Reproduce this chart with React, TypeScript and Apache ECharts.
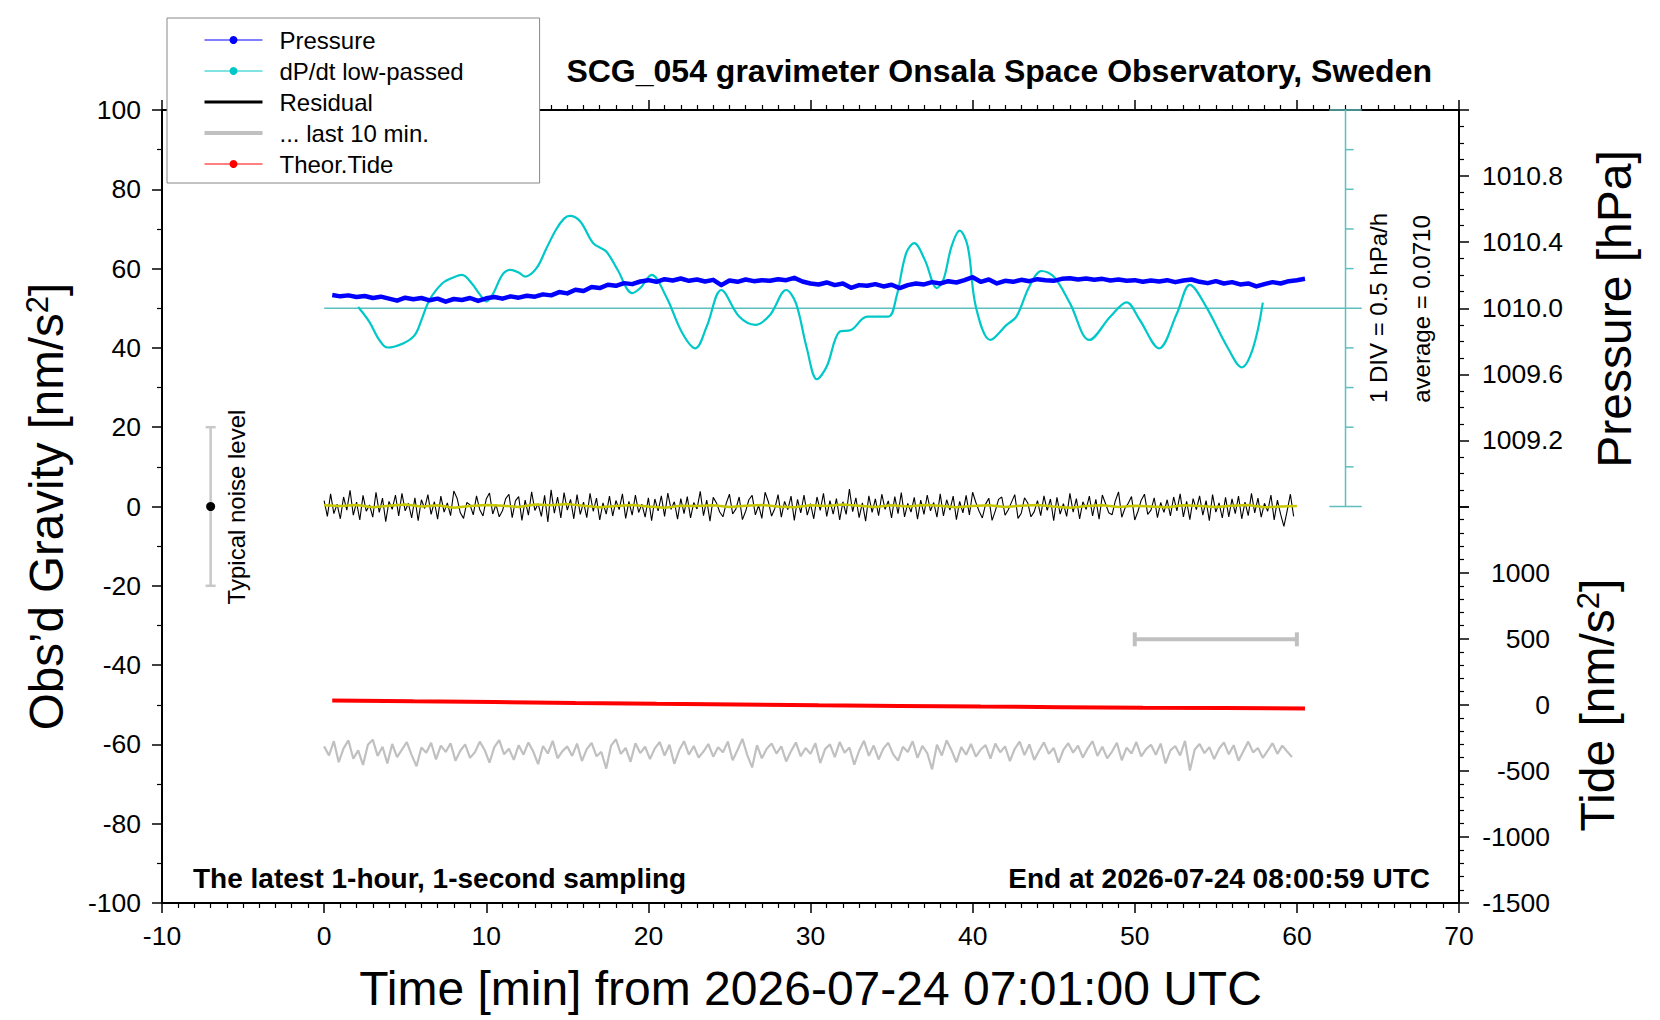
import React, { useEffect, useRef } from "react";
import * as echarts from "echarts";

const FONT = "'Liberation Sans', Arial, Helvetica, sans-serif";

const timeMin = -10;
const timeMax = 70;

// air pressure [hPa], one value every 30 s from 0.5 min
const pressureT0 = 0.5;
const pressureDt = 0.5;
const pressureHpa = [
  1010.08, 1010.072, 1010.078, 1010.068, 1010.074, 1010.062, 1010.07, 1010.058, 1010.046, 1010.064,
  1010.055, 1010.062, 1010.048, 1010.058, 1010.04, 1010.056, 1010.05, 1010.062, 1010.044, 1010.06,
  1010.068, 1010.058, 1010.072, 1010.064, 1010.076, 1010.07, 1010.084, 1010.078, 1010.098, 1010.09,
  1010.112, 1010.104, 1010.128, 1010.122, 1010.142, 1010.136, 1010.152, 1010.146, 1010.162, 1010.17,
  1010.16, 1010.176, 1010.168, 1010.18, 1010.166, 1010.174, 1010.162, 1010.172, 1010.14, 1010.168,
  1010.16, 1010.174, 1010.164, 1010.17, 1010.166, 1010.176, 1010.17, 1010.184, 1010.162, 1010.15,
  1010.144, 1010.156, 1010.14, 1010.15, 1010.124, 1010.14, 1010.136, 1010.146, 1010.132, 1010.142,
  1010.122, 1010.14, 1010.15, 1010.144, 1010.158, 1010.15, 1010.164, 1010.156, 1010.17, 1010.188,
  1010.16, 1010.174, 1010.15, 1010.166, 1010.16, 1010.172, 1010.164, 1010.176, 1010.17, 1010.166,
  1010.178, 1010.182, 1010.174, 1010.18, 1010.172, 1010.178, 1010.168, 1010.174, 1010.166, 1010.17,
  1010.16, 1010.168, 1010.162, 1010.17, 1010.158, 1010.168, 1010.174, 1010.16, 1010.152, 1010.164,
  1010.15, 1010.158, 1010.144, 1010.15, 1010.132, 1010.146, 1010.158, 1010.15, 1010.164, 1010.17,
  1010.178,
];

// low-passed dP/dt [hPa/h]
const dpdtMinutes = [
  2.1, 2.8, 3.4, 3.9, 4.9, 5.6, 6.0, 6.5, 7.3, 8.0, 8.5, 9.1, 9.6, 10.0, 10.4, 11.0, 11.5, 12.0,
  12.4, 13.1, 13.7, 14.3, 14.8, 15.15, 15.8, 16.6, 17.4, 18.1, 19.0, 19.5, 20.2, 21.1, 22.1, 22.9,
  23.6, 24.5, 25.6, 26.6, 27.5, 28.5, 29.1, 29.75, 30.4, 31.0, 31.8, 32.5, 33.5, 34.8, 35.3, 35.9,
  36.4, 37.05, 37.8, 38.2, 38.7, 39.2, 39.7, 40.2, 41.1, 42.1, 42.7, 43.5, 44.25, 45.0, 46.0, 47.2,
  48.5, 49.5, 50.3, 51.5, 52.6, 53.4, 54.4, 55.7, 56.6, 57.3, 57.9,
];
const dpdtHpaPerHour = [
  0.086, -0.104, -0.329, -0.424, -0.369, -0.264, -0.079, 0.176, 0.386, 0.461, 0.491, 0.386, 0.246,
  0.156, 0.246, 0.496, 0.556, 0.521, 0.471, 0.576, 0.821, 1.061, 1.201, 1.236, 1.166, 0.891, 0.786,
  0.556, 0.261, 0.326, 0.491, 0.216, -0.244, -0.434, -0.159, 0.301, -0.034, -0.139, -0.014, 0.301,
  0.136, -0.414, -0.824, -0.664, -0.224, -0.204, -0.034, -0.034, 0.216, 0.766, 0.891, 0.681, 0.326,
  0.431, 0.851, 1.051, 0.851, 0.091, -0.329, -0.139, -0.034, 0.346, 0.541, 0.471, 0.136, -0.329,
  -0.034, 0.146, -0.074, -0.434, 0.006, 0.366, 0.091, -0.414, -0.674, -0.429, 0.141,
];
const dpdtAverage = 0.071;
const dpdtDiv = 0.5;
const dpdtDivCount = 5;
const dpdtScaleAt = 63;

// gravity residual [nm/s^2], every 12 s
const residualDt = 0.2;
const residualNms2 = [
  1.5, -2.5, 3.2, -1.8, 0.6, -3.1, 2.4, -0.9, 4.1, -2.2, 1.1, -3.4, 2.8, -1.2, 0.4, -2.7, 3.6, -1.5, 2.1, -3.8,
  1.3, -0.7, 2.9, -2.4, 3.3, -1.1, 0.8, -2.9, 2.2, -3.6, 1.7, -0.5, 3.0, -2.0, 1.2, -3.2, 2.6, -1.4, 0.9, -2.3,
  3.9, 2.1, -1.6, -3.0, 1.0, 0.4, -2.1, 2.7, -0.8, -2.4, 1.9, 3.4, -1.9, 0.5, -2.6, -1.1, 2.0, 3.1, -2.8, 1.4,
  2.5, -3.5, 1.6, -2.2, 3.7, -1.0, 0.7, -2.5, 2.8, -3.9, 4.2, -1.7, 2.4, -2.9, 3.5, -0.9, 1.8, -3.1, 3.0, -2.0,
  1.1, -2.8, 3.3, -1.2, 2.1, -3.4, 0.9, -1.9, 2.6, -2.4, 1.5, -0.8, 3.2, -3.0, 1.3, -2.2, 2.9, -1.5, 0.6, -2.7,
  2.2, -3.6, 1.9, -1.1, 2.7, -2.5, 3.4, -0.7, 1.2, -3.2, 2.0, -1.8, 2.5, -2.9, 1.0, -0.6, 3.8, -2.3, 1.6, -3.7,
  2.3, 0.9, -1.4, -2.6, 0.8, 3.1, -1.9, -0.6, 2.4, -3.3, -1.2, 1.7, 2.8, -2.1, 0.3, -3.0, 3.6, 1.2, -2.4, -0.5,
  3.0, -2.7, 1.3, -0.8, 2.6, -3.5, 1.8, -1.6, 2.9, -2.2, 0.7, -3.1, 2.4, -1.0, 3.3, -2.5, 1.5, -1.9, 2.0, -3.4,
  1.2, -2.0, 4.4, -1.3, 2.2, -2.8, 0.9, -3.7, 2.7, -1.5, 1.9, -2.3, 3.1, -0.7, 1.4, -2.9, 2.5, -1.8, 3.5, -2.6,
  0.8, -1.4, 2.3, -3.2, 1.6, -2.0, 2.9, -1.1, 1.0, -2.7, 3.2, -2.4, 1.7, -0.9, 2.6, -3.3, 1.3, -1.6, 2.8, -2.1,
  3.6, 1.0, -1.2, -2.9, 0.6, 2.1, -3.5, -1.1, 1.8, 2.4, -2.2, -0.8, 1.1, 3.0, -3.0, -1.7, 2.2, 0.9, -2.6, -1.3,
  1.5, -2.3, 2.7, -1.0, 1.9, -3.6, 2.3, -1.9, 0.7, -2.5, 3.3, -1.4, 2.0, -3.1, 1.2, -0.7, 2.6, -2.4, 1.8, -3.2,
  2.9, 0.7, -1.6, -2.1, 1.4, 3.7, -2.7, -0.4, 0.8, 2.5, -3.4, -1.2, 1.6, 3.1, -2.0, -0.9, 2.2, -2.8, 1.0, -1.5,
  1.7, -2.4, 2.4, -1.1, 3.2, -2.6, 1.3, -3.3, 2.0, -0.8, 2.7, -2.2, 1.5, -3.6, 3.0, -1.4, 0.9, -2.9, 2.3, -2.6,
  1.9, -1.8, 2.6, -3.1, 1.1, -2.3, 3.3, -1.6, 2.1, -2.7, 0.8, -1.2, 2.9, -3.4, 1.6, -2.0, -5.0, -1.1, 3.1, -2.5,
];

// smoothed residual, one per minute
const smoothDt = 1;
const residualSmooth = [
  0.3, 0.1, 0.4, -0.2, 0.2, 0.5, 0.0, 0.3, -0.3, 0.1, 0.4, 0.2, -0.1, 0.5, 0.3, 0.6, 0.2, -0.2, 0.1, 0.4,
  0.0, -0.3, 0.2, 0.1, 0.3, -0.1, 0.2, 0.4, 0.0, -0.2, 0.3, 0.1, 0.5, 0.2, -0.1, 0.3, 0.0, 0.4, 0.2, -0.2,
  0.1, 0.3, -0.1, 0.2, 0.4, 0.0, -0.3, 0.1, 0.3, -0.1, 0.2, 0.0, -0.2, 0.3, 0.1, -0.1, 0.2, 0.4, -0.2, 0.0,
  0.1,
];

// last 10 minutes of residual, stretched over the hour (offset -62)
const last10Dt = 0.3;
const last10Nms2 = [
  -60.5, -62.8, -59.2, -64.5, -61.0, -59.0, -63.6, -61.5, -65.2, -60.1, -58.8, -62.9, -60.6, -64.8, -59.9, -63.2, -61.3, -59.4, -62.7, -65.5,
  -60.8, -62.1, -59.6, -63.8, -60.3, -61.9, -59.7, -64.1, -61.6, -60.0, -63.4, -62.0, -59.3, -61.4, -64.6, -60.7, -58.9, -62.5, -61.1, -63.9,
  -60.2, -62.6, -59.5, -61.8, -65.0, -60.4, -62.3, -59.1, -63.5, -61.7, -60.5, -62.9, -59.8, -64.2, -61.2, -59.6, -63.0, -61.9, -66.1, -60.3,
  -58.7, -62.4, -60.9, -64.4, -59.7, -62.2, -60.6, -63.7, -61.0, -59.4, -62.8, -60.1, -64.9, -61.5, -59.2, -62.6, -60.4, -63.3, -61.8, -59.9,
  -63.1, -60.7, -62.0, -59.3, -64.0, -61.4, -58.6, -62.7, -65.8, -60.2, -63.5, -61.1, -59.8, -62.3, -60.5, -64.3, -61.7, -59.5, -63.0, -60.9,
  -62.4, -59.7, -64.7, -61.2, -60.0, -63.2, -59.4, -62.1, -60.8, -65.1, -61.6, -59.1, -62.9, -60.3, -63.8, -61.0, -59.6, -62.5, -64.1, -60.6,
  -61.9, -59.2, -63.4, -60.4, -62.2, -66.3, -60.1, -62.8, -59.0, -61.5, -64.5, -60.7, -62.6, -59.9, -63.1, -61.3, -60.2, -63.6, -59.8, -62.0,
  -60.5, -64.2, -61.1, -59.3, -62.7, -60.0, -63.9, -61.6, -59.5, -62.4, -60.9, -64.6, -61.4, -59.7, -62.1, -60.3, -63.3, -61.0, -59.2, -62.9,
  -60.6, -63.5, -61.8, -59.6, -64.0, -60.8, -62.3, -59.4, -63.0, -61.2, -60.1, -62.6, -59.8, -64.8, -61.5, -60.4, -62.8, -59.1, -66.6, -61.3,
  -59.9, -62.2, -60.7, -63.7, -61.1, -59.5, -62.5, -60.2, -64.1, -61.7, -59.3, -62.0, -60.9, -63.4, -61.6, -59.7, -62.4, -60.3, -61.8, -63.2,
];
const last10Window = [50, 60];
const last10BarLevel = -33.5;

// theoretical tide [nm/s^2]
const tideMinutes = [0.5, 5.5, 10.5, 15.5, 20.5, 25.5, 30.5, 35.5, 40.5, 45.5, 50.5, 55.5, 60.5];
const tideNms2 = [33, 26, 20, 13, 7, 2, -4, -9, -14, -18, -22, -25, -29];

const noiseAt = -7;
const noiseLevel = 20;

const titleText = "SCG_054 gravimeter Onsala Space Observatory, Sweden";
const xName = "Time [min] from 2026-07-24 07:01:00 UTC";
const noteLeft = "The latest 1-hour, 1-second sampling";
const noteRight = "End at 2026-07-24 08:00:59 UTC";

const C_BLUE = "#0000ff";
const C_CYAN = "#00c8c8";
const C_TEAL = "#5fbfbf";
const C_GRAY = "#c0c0c0";
const C_RED = "#ff0000";
const C_YELLOW = "#c8c800";

const tickStyle = { show: true, inside: false, length: 10, lineStyle: { color: "#000", width: 1.5 } };
const minorStyle = (n: number) => ({ show: true, splitNumber: n, length: 5, lineStyle: { color: "#000", width: 1.2 } });
const lineStyle = { show: true, onZero: false, lineStyle: { color: "#000", width: 2 } };
const labelStyle = { color: "#000", fontSize: 26.5, fontFamily: FONT };

const App: React.FC = () => {
  const chartRef = useRef<HTMLDivElement>(null);

  useEffect(() => {
    document.body.style.margin = "0";
    const chart = echarts.init(chartRef.current!, null, { renderer: "svg" });

    const pressure = pressureHpa.map((p, i) => [pressureT0 + i * pressureDt, p]);
    const dpdt = dpdtMinutes.map((t, i) => [t, dpdtHpaPerHour[i]]);
    const residual = residualNms2.map((v, i) => [i * residualDt, v]);
    const smooth = residualSmooth.map((v, i) => [i * smoothDt, v]);
    const last10 = last10Nms2.map((v, i) => [i * last10Dt, v]);
    const tide = tideMinutes.map((t, i) => [t, tideNms2[i]]);

    const lo = dpdtAverage - dpdtDivCount * dpdtDiv;
    const hi = dpdtAverage + dpdtDivCount * dpdtDiv;
    const scaleTicks: number[][] = [];
    for (let k = -dpdtDivCount; k <= dpdtDivCount; k++) {
      if (k === 0) continue;
      const y = dpdtAverage + k * dpdtDiv;
      if (Math.abs(k) === dpdtDivCount) scaleTicks.push([dpdtScaleAt - 1, y, dpdtScaleAt + 1]);
      else scaleTicks.push([dpdtScaleAt, y, dpdtScaleAt + 0.5]);
    }

    const hidden = { show: false };
    const gridBox = { left: 162, width: 1297, outerBoundsMode: "none" };

    const options: any = {
      animation: false,
      backgroundColor: "#fff",
      textStyle: { fontFamily: FONT, color: "#000" },
      title: {
        text: titleText,
        right: 228,
        top: 55,
        padding: 0,
        textStyle: { fontSize: 32, fontWeight: "bold", color: "#000", fontFamily: FONT },
      },
      legend: {
        orient: "vertical",
        left: 167,
        top: 18,
        padding: [10, 76, 7, 37],
        itemWidth: 58,
        itemHeight: 10,
        itemGap: 7,
        backgroundColor: "#fff",
        borderColor: "#888",
        borderWidth: 1,
        selectedMode: false,
        z: 10,
        lineStyle: { width: 1 },
        itemStyle: { borderWidth: 0 },
        textStyle: { fontSize: 24, color: "#000", fontFamily: FONT, padding: [0, 0, 0, 12] },
        data: [
          { name: "Pressure" },
          { name: "dP/dt low-passed" },
          { name: "Residual", icon: "path://M0,0H58V3H0Z" },
          { name: "... last 10 min.", icon: "path://M0,0H58V4H0Z" },
          { name: "Theor.Tide" },
        ],
      },
      grid: [
        { ...gridBox, top: 110, height: 793 },
        { ...gridBox, top: 110, height: 396.5 },
        { ...gridBox, top: 506.5, height: 396.5 },
      ],
      xAxis: [
        {
          type: "value",
          gridIndex: 0,
          position: "bottom",
          min: timeMin,
          max: timeMax,
          interval: 10,
          axisLine: lineStyle,
          axisTick: tickStyle,
          minorTick: minorStyle(10),
          splitLine: hidden,
          axisLabel: { ...labelStyle, margin: 19, formatter: (v: number) => String(v) },
          name: xName,
          nameLocation: "middle",
          nameGap: 61,
          nameTextStyle: { fontSize: 48, color: "#000", fontFamily: FONT },
        },
        {
          type: "value",
          gridIndex: 0,
          position: "top",
          min: timeMin,
          max: timeMax,
          interval: 10,
          axisLine: lineStyle,
          axisTick: tickStyle,
          minorTick: minorStyle(10),
          splitLine: hidden,
          axisLabel: hidden,
        },
        { type: "value", gridIndex: 1, min: timeMin, max: timeMax, show: false },
        { type: "value", gridIndex: 2, min: timeMin, max: timeMax, show: false },
      ],
      yAxis: [
        {
          type: "value",
          gridIndex: 0,
          position: "left",
          min: -100,
          max: 100,
          interval: 20,
          axisLine: lineStyle,
          axisTick: tickStyle,
          minorTick: minorStyle(2),
          splitLine: hidden,
          axisLabel: { ...labelStyle, margin: 21, formatter: (v: number) => String(v) },
          name: "{a|Obs\u2019d Gravity [nm/s}{s|2}{a|]}",
          nameLocation: "middle",
          nameGap: 92,
          nameRotate: 90,
          nameTextStyle: {
            fontSize: 47.5,
            color: "#000",
            fontFamily: FONT,
            rich: {
              a: { fontSize: 47.5, color: "#000", fontFamily: FONT },
              s: { fontSize: 31, color: "#000", fontFamily: FONT, verticalAlign: "top" },
            },
          },
        },
        {
          type: "value",
          gridIndex: 1,
          position: "right",
          min: 1008.8,
          max: 1011.2,
          interval: 0.4,
          axisLine: lineStyle,
          axisTick: tickStyle,
          minorTick: minorStyle(4),
          splitLine: hidden,
          axisLabel: {
            ...labelStyle,
            margin: 23,
            showMinLabel: false,
            showMaxLabel: false,
            formatter: (v: number) => v.toFixed(1),
          },
        },
        { type: "value", gridIndex: 1, min: lo, max: hi, show: false },
        {
          type: "value",
          gridIndex: 2,
          position: "right",
          min: -1500,
          max: 1500,
          interval: 500,
          axisLine: lineStyle,
          axisTick: tickStyle,
          minorTick: minorStyle(5),
          splitLine: hidden,
          axisLabel: {
            ...labelStyle,
            margin: 91,
            align: "right",
            showMaxLabel: false,
            formatter: (v: number) => String(v),
          },
        },
      ],
      series: [
        {
          name: "dP/dt average",
          type: "line",
          xAxisIndex: 2,
          yAxisIndex: 2,
          data: [
            [0, dpdtAverage],
            [dpdtScaleAt + 1, dpdtAverage],
          ],
          symbol: "none",
          lineStyle: { color: C_TEAL, width: 1.5 },
        },
        {
          name: "dP/dt scale",
          type: "line",
          xAxisIndex: 2,
          yAxisIndex: 2,
          data: [
            [dpdtScaleAt, lo],
            [dpdtScaleAt, hi],
          ],
          symbol: "none",
          lineStyle: { color: C_TEAL, width: 1.5 },
        },
        {
          name: "dP/dt ticks",
          type: "custom",
          xAxisIndex: 2,
          yAxisIndex: 2,
          encode: { x: [0, 2], y: 1 },
          data: scaleTicks,
          renderItem: (_p: any, api: any) => {
            const a = api.coord([api.value(0), api.value(1)]);
            const b = api.coord([api.value(2), api.value(1)]);
            return {
              type: "line",
              shape: { x1: a[0], y1: a[1], x2: b[0], y2: b[1] },
              style: { stroke: C_TEAL, lineWidth: 1.5 },
            };
          },
        },
        {
          name: "dP/dt low-passed",
          type: "line",
          xAxisIndex: 2,
          yAxisIndex: 2,
          data: dpdt,
          smooth: 0.35,
          symbol: "circle",
          showSymbol: false,
          itemStyle: { color: C_CYAN },
          lineStyle: { color: C_CYAN, width: 2.2 },
        },
        {
          name: "Pressure",
          type: "line",
          xAxisIndex: 2,
          yAxisIndex: 1,
          data: pressure,
          symbol: "circle",
          showSymbol: false,
          itemStyle: { color: C_BLUE },
          lineStyle: { color: C_BLUE, width: 4.5, join: "round" },
        },
        {
          name: "Residual",
          type: "line",
          xAxisIndex: 0,
          yAxisIndex: 0,
          data: residual,
          symbol: "circle",
          showSymbol: false,
          itemStyle: { color: "#000" },
          lineStyle: { color: "#000", width: 1.1 },
        },
        {
          name: "Residual smoothed",
          type: "line",
          xAxisIndex: 0,
          yAxisIndex: 0,
          data: smooth,
          symbol: "none",
          lineStyle: { color: C_YELLOW, width: 2.5 },
        },
        {
          name: "... last 10 min.",
          type: "line",
          xAxisIndex: 0,
          yAxisIndex: 0,
          data: last10,
          symbol: "circle",
          showSymbol: false,
          itemStyle: { color: C_GRAY },
          lineStyle: { color: C_GRAY, width: 2.2 },
        },
        {
          name: "last 10 min window",
          type: "custom",
          xAxisIndex: 0,
          yAxisIndex: 0,
          encode: { x: [0, 1], y: 2 },
          data: [[last10Window[0], last10Window[1], last10BarLevel]],
          renderItem: (_p: any, api: any) => {
            const a = api.coord([api.value(0), api.value(2)]);
            const b = api.coord([api.value(1), api.value(2)]);
            const st = { stroke: C_GRAY, lineWidth: 4 };
            return {
              type: "group",
              children: [
                { type: "line", shape: { x1: a[0], y1: a[1], x2: b[0], y2: b[1] }, style: st },
                { type: "line", shape: { x1: a[0], y1: a[1] - 7, x2: a[0], y2: a[1] + 7 }, style: st },
                { type: "line", shape: { x1: b[0], y1: b[1] - 7, x2: b[0], y2: b[1] + 7 }, style: st },
              ],
            };
          },
        },
        {
          name: "Theor.Tide",
          type: "line",
          xAxisIndex: 3,
          yAxisIndex: 3,
          data: tide,
          symbol: "circle",
          showSymbol: false,
          itemStyle: { color: C_RED },
          lineStyle: { color: C_RED, width: 4 },
        },
        {
          name: "Typical noise level",
          type: "custom",
          xAxisIndex: 0,
          yAxisIndex: 0,
          encode: { x: 0, y: [1, 2] },
          data: [[noiseAt, -noiseLevel, noiseLevel]],
          renderItem: (_p: any, api: any) => {
            const a = api.coord([api.value(0), api.value(1)]);
            const b = api.coord([api.value(0), api.value(2)]);
            const st = { stroke: "#c8c8c8", lineWidth: 2.5 };
            return {
              type: "group",
              children: [
                { type: "line", shape: { x1: a[0], y1: a[1], x2: b[0], y2: b[1] }, style: st },
                { type: "line", shape: { x1: a[0] - 5, y1: a[1], x2: a[0] + 5, y2: a[1] }, style: st },
                { type: "line", shape: { x1: b[0] - 5, y1: b[1], x2: b[0] + 5, y2: b[1] }, style: st },
              ],
            };
          },
        },
        {
          name: "noise centre",
          type: "scatter",
          xAxisIndex: 0,
          yAxisIndex: 0,
          data: [[noiseAt, 0]],
          symbol: "circle",
          symbolSize: 9,
          itemStyle: { color: "#000", opacity: 1 },
        },
      ],
      graphic: [
        {
          type: "text",
          x: 193,
          y: 878,
          style: { text: noteLeft, font: `bold 28px ${FONT}`, fill: "#000", align: "left", verticalAlign: "middle" },
        },
        {
          type: "text",
          x: 1430,
          y: 878,
          style: { text: noteRight, font: `bold 28px ${FONT}`, fill: "#000", align: "right", verticalAlign: "middle" },
        },
        {
          type: "text",
          x: 236,
          y: 507,
          rotation: Math.PI / 2,
          style: { text: "Typical noise level", font: `24px ${FONT}`, fill: "#000", align: "center", verticalAlign: "middle" },
        },
        {
          type: "text",
          x: 1378,
          y: 308,
          rotation: Math.PI / 2,
          style: { text: "1 DIV = 0.5 hPa/h", font: `24px ${FONT}`, fill: "#000", align: "center", verticalAlign: "middle" },
        },
        {
          type: "text",
          x: 1421,
          y: 309,
          rotation: Math.PI / 2,
          style: { text: "average = 0.0710", font: `24px ${FONT}`, fill: "#000", align: "center", verticalAlign: "middle" },
        },
        {
          type: "text",
          x: 1614,
          y: 309,
          rotation: Math.PI / 2,
          style: { text: "Pressure [hPa]", font: `48px ${FONT}`, fill: "#000", align: "center", verticalAlign: "middle" },
        },
        {
          type: "text",
          x: 1597,
          y: 705,
          rotation: Math.PI / 2,
          style: {
            text: "{a|Tide [nm/s}{s|2}{a|]}",
            fill: "#000",
            align: "center",
            verticalAlign: "middle",
            rich: {
              a: { fontSize: 48, fontFamily: FONT, fill: "#000" },
              s: { fontSize: 31, fontFamily: FONT, fill: "#000", verticalAlign: "top" },
            },
          },
        },
      ],
    };

    chart.setOption(options);

    return () => {
      chart.dispose();
    };
  }, []);

  return <div ref={chartRef} style={{ width: "1660px", height: "1020px" }}></div>;
};

export default App;
